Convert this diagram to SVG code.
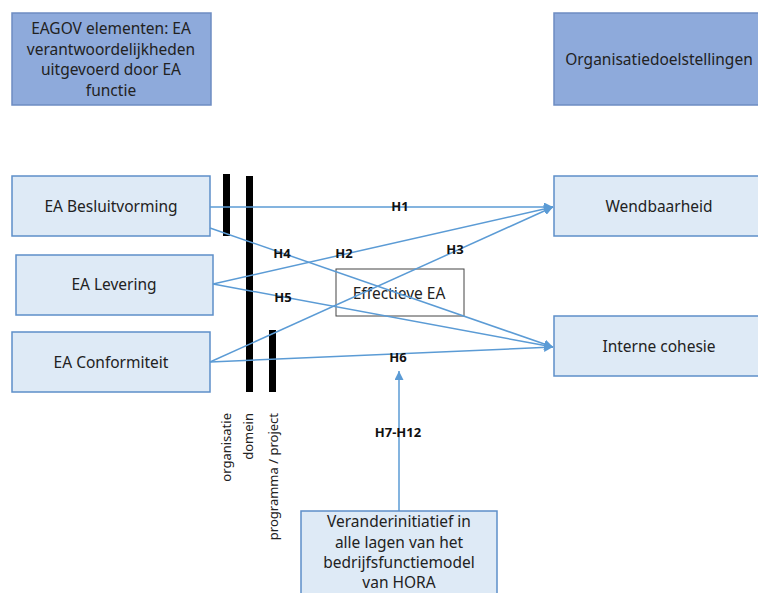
<svg xmlns="http://www.w3.org/2000/svg" width="758" height="593" viewBox="0 0 758 593">
<style>
.hdr{fill:#8eaadb;stroke:#6d8cc2;stroke-width:1.5}
.box{fill:#deeaf6;stroke:#5d8fc9;stroke-width:1.5}
.mid{fill:#ffffff;stroke:#444444;stroke-width:1}
.t{font-family:"Noto Sans","Open Sans",sans-serif;font-size:15.5px;fill:#222;text-anchor:middle}
.lbl{font-family:"Noto Sans","Open Sans",sans-serif;font-size:13px;font-weight:bold;fill:#111;text-anchor:middle}
.rot{font-family:"Noto Sans","Open Sans",sans-serif;font-size:13px;fill:#222;text-anchor:end}
.c{stroke:#5b9bd5;stroke-width:1.5;fill:none}
.bar{fill:#000}
</style>
<defs>
<marker id="ah" viewBox="0 0 10 10" refX="10" refY="5" markerWidth="9" markerHeight="9" markerUnits="userSpaceOnUse" orient="auto">
<path d="M0,0 L10,5 L0,10 z" fill="#5b9bd5"/>
</marker>
</defs>
<rect width="758" height="593" fill="#ffffff"/>

<g id="eagov">
<rect class="hdr" x="12" y="13" width="199" height="92"/>
<text class="t" x="111" y="34">EAGOV elementen: EA</text>
<text class="t" x="111" y="55">verantwoordelijkheden</text>
<text class="t" x="111" y="75">uitgevoerd door EA</text>
<text class="t" x="111" y="96">functie</text>
</g>

<g id="organisatiedoelstellingen">
<rect class="hdr" x="554" y="13" width="210" height="92"/>
<text class="t" x="659" y="65">Organisatiedoelstellingen</text>
</g>

<g id="besluitvorming">
<rect class="box" x="12" y="176" width="198" height="60"/>
<text class="t" x="111" y="212">EA Besluitvorming</text>
</g>
<g id="levering">
<rect class="box" x="16" y="255" width="197" height="60"/>
<text class="t" x="114" y="290">EA Levering</text>
</g>
<g id="conformiteit">
<rect class="box" x="12" y="332" width="198" height="60"/>
<text class="t" x="111" y="368">EA Conformiteit</text>
</g>

<g id="wendbaarheid">
<rect class="box" x="554" y="176" width="210" height="60"/>
<text class="t" x="659" y="212">Wendbaarheid</text>
</g>
<g id="cohesie">
<rect class="box" x="554" y="316" width="210" height="60"/>
<text class="t" x="659" y="352">Interne cohesie</text>
</g>

<g id="niveaus">
<rect class="bar" x="223" y="174" width="7" height="62"/>
<rect class="bar" x="246" y="176" width="7" height="216"/>
<rect class="bar" x="269" y="330" width="7" height="62"/>
<text class="rot" transform="translate(231,413) rotate(-90)">organisatie</text>
<text class="rot" transform="translate(253,413) rotate(-90)">domein</text>
<text class="rot" transform="translate(278,413) rotate(-90)">programma / project</text>
</g>

<g id="effectieve">
<rect class="mid" x="336" y="269" width="128" height="47"/>
<text class="t" x="399" y="299">Effectieve EA</text>
</g>

<g id="connectors">
<line class="c" x1="210" y1="207" x2="553" y2="207" marker-end="url(#ah)"/>
<line class="c" x1="210" y1="228" x2="553" y2="347" marker-end="url(#ah)"/>
<line class="c" x1="213" y1="284" x2="553" y2="207" marker-end="url(#ah)"/>
<line class="c" x1="213" y1="284" x2="553" y2="347" marker-end="url(#ah)"/>
<line class="c" x1="210" y1="362" x2="553" y2="207" marker-end="url(#ah)"/>
<line class="c" x1="210" y1="362" x2="553" y2="347" marker-end="url(#ah)"/>
<line class="c" x1="399" y1="511" x2="399" y2="371" marker-end="url(#ah)"/>
<text class="lbl" x="400" y="211">H1</text>
<text class="lbl" x="344" y="258">H2</text>
<text class="lbl" x="455" y="254">H3</text>
<text class="lbl" x="282" y="258">H4</text>
<text class="lbl" x="283" y="302">H5</text>
<text class="lbl" x="398" y="362">H6</text>
<text class="lbl" x="398" y="437">H7-H12</text>
</g>

<g id="verandering">
<rect class="box" x="301" y="511" width="196" height="90"/>
<text class="t" x="399" y="527">Veranderinitiatief in</text>
<text class="t" x="399" y="548">alle lagen van het</text>
<text class="t" x="399" y="568">bedrijfsfunctiemodel</text>
<text class="t" x="399" y="588">van HORA</text>
</g>
</svg>
